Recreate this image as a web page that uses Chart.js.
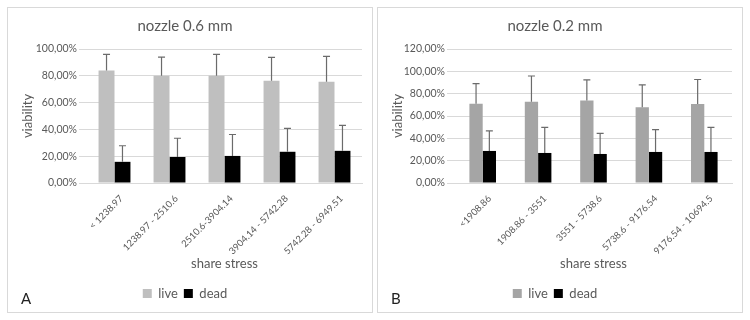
<!DOCTYPE html>
<html>
<head>
<meta charset="utf-8">
<script src="https://cdn.jsdelivr.net/npm/chart.js@4.4.0/dist/chart.umd.min.js"></script>
<style>
  body { margin: 0; background: #fff; width: 750px; height: 320px; position: relative; font-family: Lato, "Liberation Sans", sans-serif; }
  .panel { position: absolute; top: 7px; width: 364px; height: 304px; border: 1px solid #d9d9d9; }
  .tag { position: absolute; left: 13px; top: 281px; font-size: 15px; color: #222; }
</style>
</head>
<body>
<div class="panel" style="left:7px"><canvas id="chartA" width="364" height="304"></canvas><div class="tag">A</div></div>
<div class="panel" style="left:377px"><canvas id="chartB" width="364" height="304"></canvas><div class="tag">B</div></div>
<script>
// panel A: nozzle 0.6 mm
const labelsA = ['< 1238.97', '1238.97 - 2510.6', '2510.6-3904.14', '3904.14 - 5742.28', '5742.28 - 6949.51'];
const liveA = [84, 80, 80, 76.3, 75.5];
const deadA = [15.8, 19.4, 20.2, 23.3, 24];
const errA = [12, 14, 16, 17.5, 19];

// panel B: nozzle 0.2 mm
const labelsB = ['<1908.86', '1908.86 - 3551', '3551 - 5738.6', '5738.6 - 9176.54', '9176.54 - 10694.5'];
const liveB = [71, 72.8, 73.8, 67.8, 70.7];
const deadB = [28.7, 26.9, 26, 27.8, 27.8];
const errB = [18, 23, 18.5, 20, 22];

const textGray = '#595959';
const gridGray = '#d9d9d9';
const fontFam = 'Lato, "Liberation Sans", sans-serif';

// upper error bars, drawn through the y scale
const errorBars = {
  id: 'errorBars',
  afterDatasetsDraw(chart) {
    const ctx = chart.ctx;
    const y = chart.scales.y;
    const errs = chart.options.plugins.errorBars.errs;
    ctx.save();
    ctx.strokeStyle = '#6b6b6b';
    ctx.lineWidth = 1.2;
    chart.data.datasets.forEach((ds, i) => {
      const meta = chart.getDatasetMeta(i);
      meta.data.forEach((bar, j) => {
        const top = y.getPixelForValue(ds.data[j] + errs[j]);
        ctx.beginPath();
        ctx.moveTo(bar.x, bar.y);
        ctx.lineTo(bar.x, top);
        ctx.moveTo(bar.x - 3.5, top);
        ctx.lineTo(bar.x + 3.5, top);
        ctx.stroke();
      });
    });
    ctx.restore();
  }
};

function makeChart(id, title, labels, live, dead, errs, liveColor, yMax, yWidth, catPct) {
  return new Chart(document.getElementById(id), {
    type: 'bar',
    data: {
      labels: labels,
      datasets: [
        { label: 'live', data: live, backgroundColor: liveColor },
        { label: 'dead', data: dead, backgroundColor: '#000000' }
      ]
    },
    options: {
      responsive: false,
      animation: false,
      layout: { padding: { top: 0, right: 10, bottom: 2, left: 0 } },
      datasets: { bar: { barPercentage: 1, categoryPercentage: catPct } },
      plugins: {
        title: {
          display: true, text: title, color: textGray,
          font: { family: fontFam, size: 15, weight: 'normal' },
          padding: { top: 9, bottom: 14 }
        },
        legend: {
          position: 'bottom',
          labels: {
            color: textGray, boxWidth: 9, boxHeight: 9, padding: 6,
            font: { family: fontFam, size: 13 }
          }
        },
        tooltip: { enabled: false },
        errorBars: { errs: errs }
      },
      scales: {
        x: {
          grid: { display: false },
          border: { color: gridGray },
          ticks: { color: textGray, font: { family: fontFam, size: 9.5 }, minRotation: 45, maxRotation: 45, padding: 2, labelOffset: 7 },
          title: { display: true, text: 'share stress', color: textGray, font: { family: fontFam, size: 13 }, padding: { top: 2, bottom: 9 } },
          afterFit(s) { s.height = 98; }
        },
        y: {
          min: 0, max: yMax,
          grid: { color: gridGray },
          border: { display: false },
          ticks: {
            stepSize: 20, color: textGray, padding: 2,
            font: { family: fontFam, size: 10.5 },
            callback: v => v.toFixed(2).replace('.', ',') + '%'
          },
          title: { display: true, text: 'viability', color: textGray, font: { family: fontFam, size: 13 }, padding: { top: 12, bottom: 0 } },
          afterFit(s) { s.width = yWidth; }
        }
      }
    },
    plugins: [errorBars]
  });
}

makeChart('chartA', 'nozzle 0.6 mm', labelsA, liveA, deadA, errA, '#bfbfbf', 100, 79, 0.58);
makeChart('chartB', 'nozzle 0.2 mm', labelsB, liveB, deadB, errB, '#a5a5a5', 120, 77, 0.48);
</script>
</body>
</html>
